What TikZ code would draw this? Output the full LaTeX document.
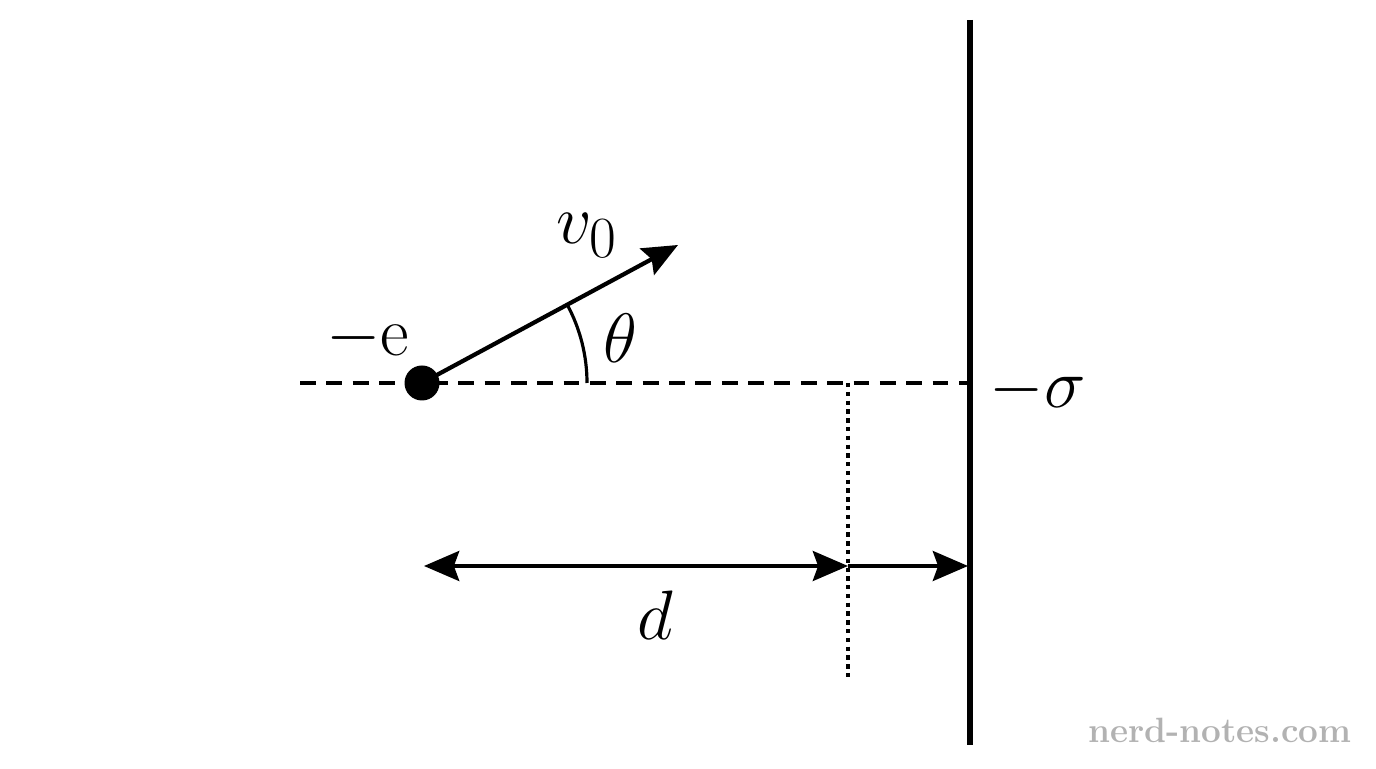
\documentclass[tikz,border=0pt]{standalone}
\usetikzlibrary{arrows.meta}
\tikzset{
  lbl/.style={font=\Huge, scale=1.6, transform shape},
  vec/.style={line width=2.4pt,-{Stealth[length=20pt,width=17pt,inset=3pt]}},
}
\begin{document}
\begin{tikzpicture}
		\useasboundingbox (0,0) rectangle (27.52,15.36);
		% plate
		\coordinate (ptop) at (19.4,14.96);
		\coordinate (pbot) at (19.4,0.46);
		\draw[line width=3pt] (ptop) -- (pbot);
		% axis
		\coordinate (aleft) at (6,7.7);
		\coordinate (aright) at (19.4,7.7);
		\draw[line width=1.8pt, dash pattern=on 9pt off 6pt] (aleft) -- (aright);
		% charge
		\node[circle, fill=black, inner sep=0pt, minimum size=0.7cm] (q) at (8.44,7.7) {};
		\coordinate (vend) at (13.56,10.46);
		\draw[vec] (q.center) -- (vend);
		\draw[line width=1.8pt] (q.center) ++(3.3,0) arc (0:28.3:3.3);
		\node[lbl] (v) at (11.75,10.65) {$v_0$};
		\node[lbl] (th) at (12.4,8.6) {$\theta$};
		\node[lbl] (e) at (7.35,8.6) {$-$e};
		\node[lbl] (s) at (20.75,7.55) {$-\sigma$};
		% dotted marker
		\coordinate (mtop) at (16.96,7.7);
		\coordinate (mbot) at (16.96,1.8);
		\draw[line width=2pt, dash pattern=on 2.5pt off 2.5pt] (mtop) -- (mbot);
		% distances
		\coordinate (dl) at (8.48,4.04);
		\coordinate (dm) at (16.96,4.04);
		\coordinate (dr) at (19.36,4.04);
		\draw[vec, {Stealth[length=20pt,width=17pt,inset=3pt]}-{Stealth[length=20pt,width=17pt,inset=3pt]}] (dl) -- (dm);
		\draw[vec] (dm) -- (dr);
		\node[lbl] (d) at (13.1,3.05) {$d$};
		% watermark
		\node[font=\fontsize{20}{24}\selectfont\bfseries, text=black!30] (wm) at (24.4,0.75) {nerd-notes.com};
	\end{tikzpicture}
\end{document}
